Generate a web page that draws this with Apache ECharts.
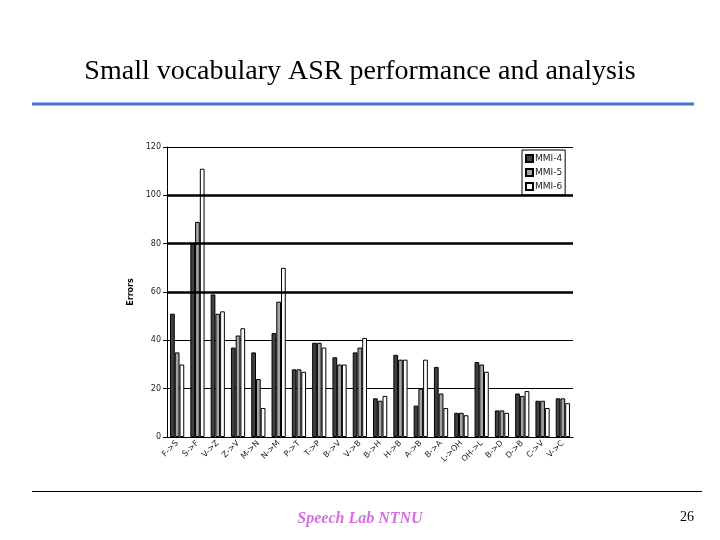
<!DOCTYPE html>
<html lang="en">
<head>
    <meta charset="UTF-8">
    <title>Small vocabulary ASR performance and analysis</title>
    <script src="https://cdn.jsdelivr.net/npm/echarts@6/dist/echarts.min.js"></script>
    <style>
        html, body { margin: 0; padding: 0; background: #fff; }
    </style>
</head>
<body>
<div id="main" style="width: 720px;height:540px;"></div>
<script type="text/javascript">
    // data
    var categories = ['F->S', 'S->F', 'V->Z', 'Z->V', 'M->N', 'N->M', 'P->T', 'T->P', 'B->V', 'V->B',
        'B->H', 'H->B', 'A->B', 'B->A', 'L->OH', 'OH->L', 'B->D', 'D->B', 'C->V', 'V->C'];
    var mmi4 = [51, 80, 59, 37, 35, 43, 28, 39, 33, 35, 16, 34, 13, 29, 10, 31, 11, 18, 15, 16];
    var mmi5 = [35, 89, 51, 42, 24, 56, 28, 39, 30, 37, 15, 32, 20, 18, 10, 30, 11, 17, 15, 16];
    var mmi6 = [30, 111, 52, 45, 12, 70, 27, 37, 30, 41, 17, 32, 32, 12, 9, 27, 10, 19, 12, 14];
    var yTicks = [0, 20, 40, 60, 80, 100, 120];
    var boldLines = [60, 80, 100];

    var myChart = echarts.init(document.getElementById('main'));
    var small = 'DejaVu Sans';

    var option = {
        backgroundColor: '#fff',
        animation: false,
        title: [{
            text: 'Small vocabulary ASR performance and analysis',
            left: 'center',
            top: 53,
            textStyle: { fontFamily: 'Liberation Serif', fontSize: 28, fontWeight: 'normal', color: '#000' }
        }, {
            text: 'Speech Lab NTNU',
            left: 'center',
            top: 506,
            textStyle: { fontFamily: 'Liberation Serif', fontSize: 16, fontWeight: 'bold', fontStyle: 'italic', color: '#d46fe0' }
        }, {
            text: '26',
            left: 675,
            top: 505,
            textStyle: { fontFamily: 'Liberation Serif', fontSize: 14, fontWeight: 'normal', color: '#000' }
        }],
        graphic: [{
            type: 'line',
            shape: { x1: 32, y1: 104, x2: 694, y2: 104 },
            style: { stroke: '#4a6fce', lineWidth: 3 }
        }, {
            type: 'line',
            shape: { x1: 32, y1: 491.5, x2: 702, y2: 491.5 },
            style: { stroke: '#000', lineWidth: 1 }
        }],
        legend: {
            orient: 'vertical',
            left: 522,
            top: 150,
            itemWidth: 7,
            itemHeight: 7,
            itemGap: 5,
            padding: [4, 3, 4, 3],
            borderColor: '#000',
            borderWidth: 1,
            backgroundColor: '#fff',
            icon: 'rect',
            textStyle: { fontFamily: small, fontSize: 9, color: '#222', padding: [0, 0, 0, -3] },
            data: ['MMI-4', 'MMI-5', 'MMI-6']
        },
        grid: { left: 167, right: 147, top: 147, bottom: 103 },
        xAxis: {
            type: 'category',
            data: categories,
            axisLine: { lineStyle: { color: '#000', width: 1 } },
            axisTick: { lineStyle: { color: '#000' }, length: 4 },
            axisLabel: { rotate: 45, fontFamily: small, fontSize: 8, color: '#222', margin: 5, interval: 0 }
        },
        yAxis: {
            type: 'value',
            min: 0,
            max: 120,
            interval: 20,
            name: 'Errors',
            nameLocation: 'middle',
            nameGap: 30,
            nameRotate: 90,
            nameTextStyle: { fontFamily: small, fontSize: 8, fontWeight: 'bold', color: '#000' },
            axisLine: { show: true, lineStyle: { color: '#000' } },
            axisTick: { show: true, length: 4, lineStyle: { color: '#000' } },
            axisLabel: {
                fontFamily: small, fontSize: 8, color: '#222', margin: 6,
                formatter: function (v) { return yTicks.indexOf(v) >= 0 ? String(v) : ''; }
            },
            splitLine: { lineStyle: { color: '#000', width: 1 } }
        },
        series: [{
            name: 'MMI-4',
            type: 'bar',
            data: mmi4,
            barGap: '0%',
            barCategoryGap: '30%',
            itemStyle: { color: '#404040', borderColor: '#000', borderWidth: 1 },
            markLine: {
                silent: true,
                symbol: 'none',
                label: { show: false },
                lineStyle: { color: '#000', width: 2.5, type: 'solid' },
                data: boldLines.map(function (v) { return { yAxis: v }; })
            }
        }, {
            name: 'MMI-5',
            type: 'bar',
            data: mmi5,
            barGap: '0%',
            barCategoryGap: '30%',
            itemStyle: { color: '#a3a3a3', borderColor: '#000', borderWidth: 1 }
        }, {
            name: 'MMI-6',
            type: 'bar',
            data: mmi6,
            barGap: '0%',
            barCategoryGap: '30%',
            itemStyle: { color: '#fff', borderColor: '#000', borderWidth: 1 }
        }]
    };
    myChart.setOption(option);
</script>
</body>
</html>
